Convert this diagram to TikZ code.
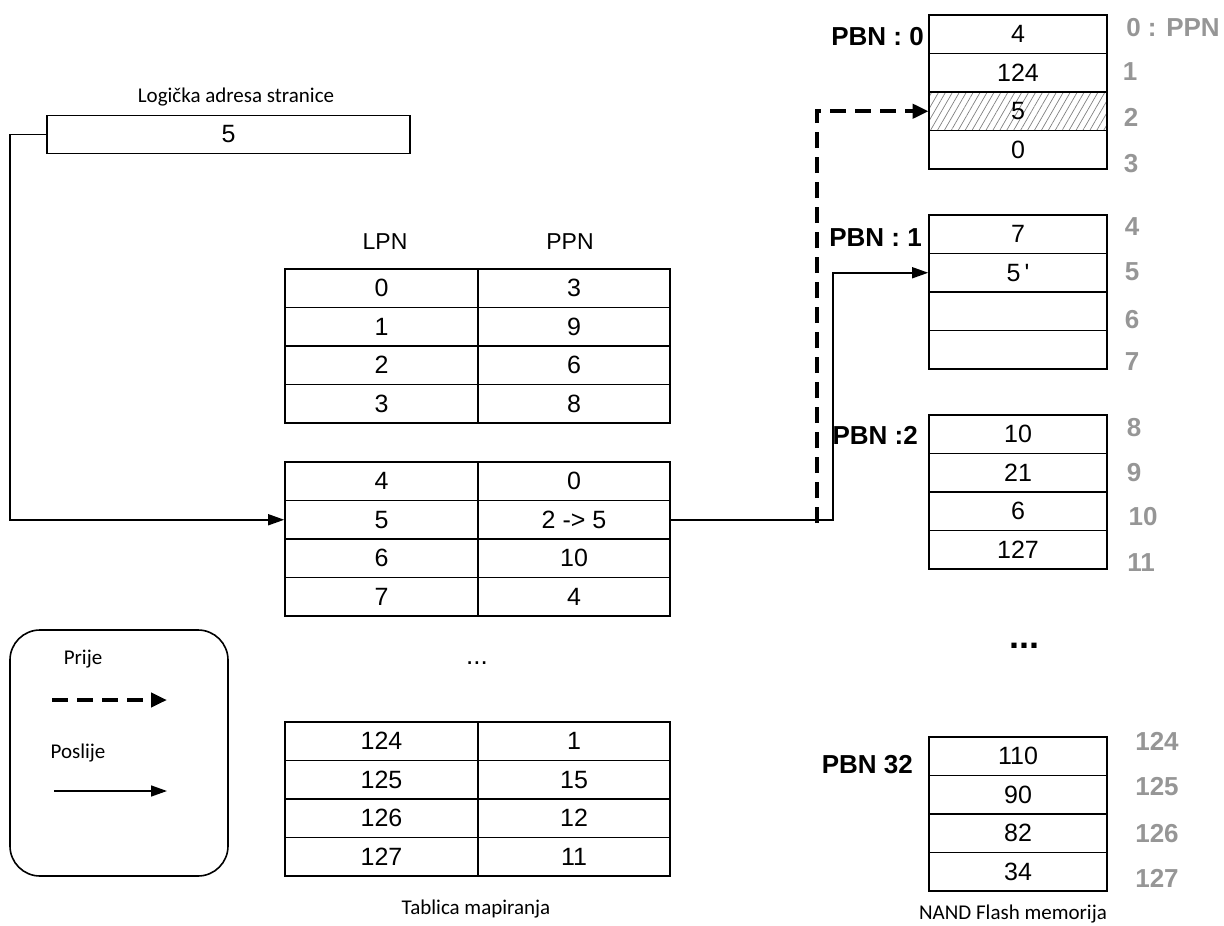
\documentclass[tikz,border=0pt]{standalone}
\usepackage{fontspec}
\setmainfont{Liberation Sans}
\newfontfamily\calfont{Carlito}
\usetikzlibrary{arrows.meta,patterns.meta}
\definecolor{numgray}{RGB}{150,150,150}
\begin{document}
\begin{tikzpicture}[x=1pt,y=-1pt,
  cell/.style={draw, line width=1.6pt, minimum height=38.5pt, inner sep=0pt, font=\fontsize{25}{29}\selectfont},
  lcell/.style={cell, minimum width=193pt},
  rcell/.style={cell, minimum width=192pt},
  fcell/.style={cell, minimum width=178pt},
  pbn/.style={font=\bfseries\fontsize{26}{30}\selectfont, anchor=east, inner sep=0pt},
  ppn/.style={font=\bfseries\fontsize{26}{30}\selectfont, text=numgray, inner sep=0pt},
  lbl/.style={font=\calfont\fontsize{21}{25}\selectfont, inner sep=0pt},
  hdr/.style={font=\fontsize{23}{27}\selectfont, inner sep=0pt},
  conn/.style={line width=1.5pt, -{Triangle[length=16pt,width=11pt]}},
  dconn/.style={line width=4pt, dash pattern=on 16pt off 9pt, -{Triangle[length=16pt,width=14pt]}},
  hatch/.style={pattern={Lines[angle=60,distance=6pt,line width=0.7pt]}, pattern color=gray}
]
\useasboundingbox (0,0) rectangle (1224,926);

% logical address
\node[lbl] (latitle) at (236,97) {Logička adresa stranice};
\node[draw, line width=1.6pt, minimum width=363pt, minimum height=38pt, inner sep=0pt, font=\fontsize{25}{29}\selectfont] (la) at (228.5,134.5) {5};

% headers
\node[hdr] (hlpn) at (385,242) {LPN};
\node[hdr] (hppn) at (570,242) {PPN};

% table 1
\node[lcell] (t1r0l) at (381.5,288.25) {0}; \node[rcell] (t1r0r) at (574,288.25) {3};
\node[lcell] (t1r1l) at (381.5,326.75) {1}; \node[rcell] (t1r1r) at (574,326.75) {9};
\node[lcell] (t1r2l) at (381.5,365.25) {2}; \node[rcell] (t1r2r) at (574,365.25) {6};
\node[lcell] (t1r3l) at (381.5,403.75) {3}; \node[rcell] (t1r3r) at (574,403.75) {8};

% table 2
\node[lcell] (t2r0l) at (381.5,481.25) {4}; \node[rcell] (t2r0r) at (574,481.25) {0};
\node[lcell] (t2r1l) at (381.5,519.75) {5}; \node[rcell] (t2r1r) at (574,519.75) {2 -{}> 5};
\node[lcell] (t2r2l) at (381.5,558.25) {6}; \node[rcell] (t2r2r) at (574,558.25) {10};
\node[lcell] (t2r3l) at (381.5,596.75) {7}; \node[rcell] (t2r3r) at (574,596.75) {4};

\node[font=\fontsize{26}{30}\selectfont, inner sep=0pt] (tdots) at (477,663) {...};

% table 3
\node[lcell] (t3r0l) at (381.5,741.25) {124}; \node[rcell] (t3r0r) at (574,741.25) {1};
\node[lcell] (t3r1l) at (381.5,779.75) {125}; \node[rcell] (t3r1r) at (574,779.75) {15};
\node[lcell] (t3r2l) at (381.5,818.25) {126}; \node[rcell] (t3r2r) at (574,818.25) {12};
\node[lcell] (t3r3l) at (381.5,856.75) {127}; \node[rcell] (t3r3r) at (574,856.75) {11};

\node[lbl] (ttitle) at (476,909) {Tablica mapiranja};

% flash block 0
\node[fcell] (f0r0) at (1018,34.25) {4};
\node[fcell] (f0r1) at (1018,72.75) {124};
\node[fcell, hatch] (f0r2) at (1018,111.25) {5};
\node[fcell] (f0r3) at (1018,149.75) {0};
% flash block 1
\node[fcell] (f1r0) at (1018,234.25) {7};
\node[fcell] (f1r1) at (1018,272.75) {5\,\textquotesingle};
\node[fcell] (f1r2) at (1018,311.25) {};
\node[fcell] (f1r3) at (1018,349.75) {};
% flash block 2
\node[fcell] (f2r0) at (1018,434.25) {10};
\node[fcell] (f2r1) at (1018,472.75) {21};
\node[fcell] (f2r2) at (1018,511.25) {6};
\node[fcell] (f2r3) at (1018,549.75) {127};
% flash block 32
\node[fcell] (f3r0) at (1018,756.25) {110};
\node[fcell] (f3r1) at (1018,794.75) {90};
\node[fcell] (f3r2) at (1018,833.25) {82};
\node[fcell] (f3r3) at (1018,871.75) {34};

\node[font=\bfseries\fontsize{36}{40}\selectfont, inner sep=0pt] (fdots) at (1024,646) {...};
\node[lbl] (ftitle) at (1013,914) {NAND Flash memorija};

% PBN labels
\node[pbn] (p0) at (924,37) {PBN : 0};
\node[pbn] (p1) at (922,238) {PBN : 1};
\node[pbn] (p2) at (918,435) {PBN :2};
\node[pbn] (p32) at (913,765) {PBN 32};

% PPN numbers
\node[ppn] (n0) at (1173,28) {0 : PPN};
\node[ppn] (n1) at (1130,72) {1};
\node[ppn] (n2) at (1131,117) {2};
\node[ppn] (n3) at (1131,164) {3};
\node[ppn] (n4) at (1132,227) {4};
\node[ppn] (n5) at (1132,272) {5};
\node[ppn] (n6) at (1132,320) {6};
\node[ppn] (n7) at (1132,362) {7};
\node[ppn] (n8) at (1134,428) {8};
\node[ppn] (n9) at (1134,473) {9};
\node[ppn] (n10) at (1143,517) {10};
\node[ppn] (n11) at (1141,563) {11};
\node[ppn] (n124) at (1157,741) {124};
\node[ppn] (n125) at (1157,787) {125};
\node[ppn] (n126) at (1157,834) {126};
\node[ppn] (n127) at (1157,878) {127};

% connectors
\coordinate (c1) at (10,134.5);
\draw[conn] (la.west) -- (c1) |- (t2r1l.west);
\coordinate (s1) at (833,519.75);
\draw[conn] (t2r1r.east) -- (s1) |- (f1r1.west);
\coordinate (d1) at (817,523);
\draw[dconn] (d1) |- (f0r2.west);

% legend
\node[draw, line width=1.6pt, rounded corners=30pt, minimum width=218pt, minimum height=246pt] (leg) at (119,753) {};
\node[lbl] (lprije) at (83,659) {Prije};
\node[lbl] (lposlije) at (78,753) {Poslije};
\coordinate (la1) at (52,700);
\coordinate (la2) at (167,700);
\draw[dconn] (la1) -- (la2);
\coordinate (lb1) at (54,791);
\coordinate (lb2) at (167,791);
\draw[conn] (lb1) -- (lb2);
\end{tikzpicture}
\end{document}
